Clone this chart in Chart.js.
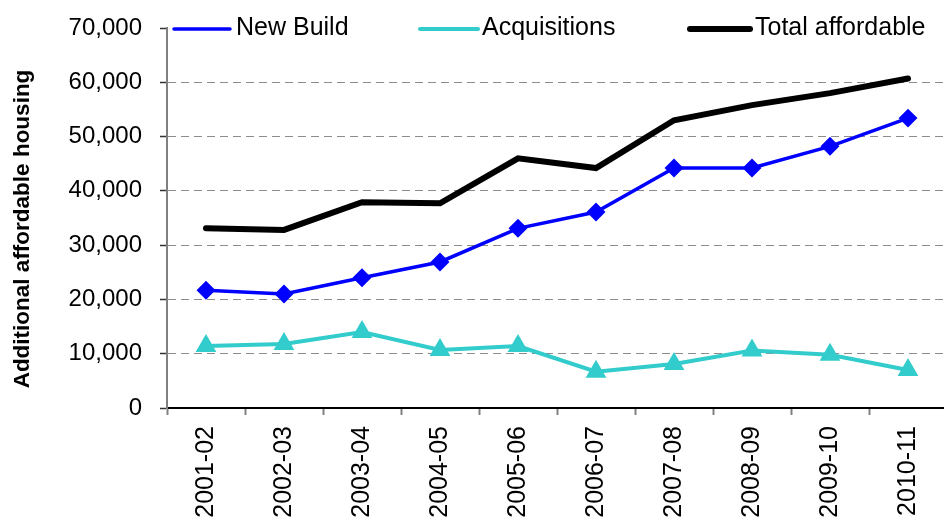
<!DOCTYPE html>
<html>
<head>
<meta charset="utf-8">
<script src="https://cdn.jsdelivr.net/npm/chart.js@4.4.1/dist/chart.umd.min.js"></script>
<style>
html,body{margin:0;padding:0;background:#fff;overflow:hidden;}
#wrap{width:944px;height:522px;overflow:hidden;position:relative;}
#c{position:absolute;left:0;top:0;}
</style>
</head>
<body>
<div id="wrap"><canvas id="c" width="959" height="522"></canvas></div>
<script>
const categories = ["2001-02","2002-03","2003-04","2004-05","2005-06","2006-07","2007-08","2008-09","2009-10","2010-11"];
const newBuild = [21700, 21000, 24000, 26900, 33100, 36100, 44200, 44200, 48200, 53400];
const acquisitions = [11400, 11800, 14000, 10700, 11400, 6700, 8100, 10600, 9800, 7000];
const totalAffordable = [33100, 32800, 37900, 37700, 46000, 44200, 53000, 55800, 58000, 60700];
const yTicks = [0, 10000, 20000, 30000, 40000, 50000, 60000, 70000];
const yTitle = "Additional affordable housing";
const seriesNames = ["New Build", "Acquisitions", "Total affordable"];

const FONT = "'Liberation Sans', Arial, sans-serif";

const customLegendAndTitle = {
  id: 'customLegendAndTitle',
  afterDraw(chart) {
    const ctx = chart.ctx;
    ctx.save();
    ctx.translate(23, 229);
    ctx.rotate(-Math.PI / 2);
    ctx.font = "bold 22.5px " + FONT;
    ctx.fillStyle = "#000";
    ctx.textAlign = "center";
    ctx.textBaseline = "middle";
    ctx.fillText(yTitle, 0, 0);
    ctx.restore();

    const items = [
      {x0: 174, x1: 230, tx: 236},
      {x0: 420, x1: 478, tx: 482},
      {x0: 690, x1: 750, tx: 755}
    ];
    const ly = 29;
    chart.data.datasets.forEach((ds, i) => {
      const it = items[i];
      ctx.save();
      ctx.strokeStyle = ds.borderColor;
      ctx.lineWidth = ds.borderWidth;
      ctx.lineCap = 'round';
      ctx.beginPath();
      ctx.moveTo(it.x0, ly);
      ctx.lineTo(it.x1, ly);
      ctx.stroke();
      if (ds.pointStyle && ds.pointRadius > 0) {
        ctx.fillStyle = ds.pointBackgroundColor;
        ctx.strokeStyle = ds.pointBorderColor;
        ctx.lineWidth = 1;
        Chart.helpers.drawPoint(ctx, {pointStyle: ds.pointStyle, rotation: 0, borderWidth: 1}, (it.x0 + it.x1) / 2, ly, ds.pointRadius);
      }
      ctx.fillStyle = "#000";
      ctx.font = "25px " + FONT;
      ctx.textAlign = "left";
      ctx.textBaseline = "middle";
      ctx.fillText(ds.label, it.tx, ly - 1);
      ctx.restore();
    });
  }
};

function zeroPad(scale) {
  scale.paddingLeft = 0; scale.paddingRight = 0; scale.paddingTop = 0; scale.paddingBottom = 0;
}

new Chart(document.getElementById('c'), {
  type: 'line',
  data: {
    labels: categories,
    datasets: [
      {
        label: seriesNames[0], data: newBuild,
        borderColor: '#0000FF', backgroundColor: '#0000FF',
        pointBackgroundColor: '#0000FF', pointBorderColor: '#0000FF',
        borderWidth: 3.5, pointStyle: 'rectRot', pointRadius: 7, tension: 0, fill: false
      },
      {
        label: seriesNames[1], data: acquisitions,
        borderColor: '#33CCCC', backgroundColor: '#33CCCC',
        pointBackgroundColor: '#33CCCC', pointBorderColor: '#33CCCC',
        borderWidth: 4, pointStyle: 'triangle', pointRadius: 8, tension: 0, fill: false
      },
      {
        label: seriesNames[2], data: totalAffordable,
        borderColor: '#000000', backgroundColor: '#000000',
        borderWidth: 6, pointRadius: 0, pointStyle: false, tension: 0, fill: false,
        borderCapStyle: 'round', borderJoinStyle: 'miter'
      }
    ]
  },
  options: {
    responsive: false,
    devicePixelRatio: 1,
    animation: false,
    layout: { padding: { top: 28, right: 0, left: 0, bottom: 0 } },
    plugins: { legend: { display: false }, tooltip: { enabled: false }, title: { display: false } },
    scales: {
      x: {
        type: 'category',
        offset: true,
        grid: { offset: true, drawOnChartArea: false, drawTicks: true, tickLength: 7, tickColor: '#808080', tickWidth: 2 },
        border: { display: true, color: '#000', width: 2 },
        ticks: {
          minRotation: 90, maxRotation: 90, autoSkip: false, padding: 11,
          color: '#000', font: { family: FONT, size: 25 }
        },
        afterFit(scale) { scale.height = 114; zeroPad(scale); }
      },
      y: {
        min: 0, max: 70000,
        afterBuildTicks(scale) { scale.ticks = yTicks.map(v => ({ value: v })); },
        grid: {
          color: (c) => (c.tick && (c.tick.value === 0 || c.tick.value === 70000)) ? 'rgba(0,0,0,0)' : '#8c8c8c',
          lineWidth: 1, tickLength: 7, tickColor: '#333', tickWidth: 1.5, drawTicks: true
        },
        border: { display: true, color: '#808080', width: 2, dash: [8, 5] },
        ticks: {
          padding: 18, color: '#000', font: { family: FONT, size: 24 },
          callback: (v) => Number(v).toLocaleString('en-US')
        },
        afterFit(scale) { scale.width = 167; zeroPad(scale); }
      }
    }
  },
  plugins: [customLegendAndTitle]
});
</script>
</body>
</html>
